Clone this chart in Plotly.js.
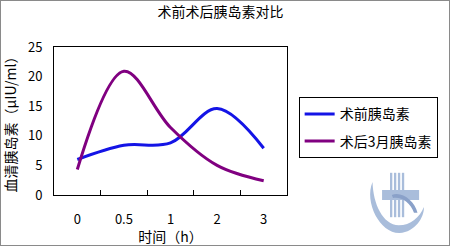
<!DOCTYPE html>
<html><head><meta charset="utf-8">
<script src="https://cdn.plot.ly/plotly-3.0.1.min.js"></script>
<style>
html,body{margin:0;padding:0;background:#fff;}
#wrap{position:relative;width:450px;height:246px;}
#chart{width:450px;height:246px;}
#frame{position:absolute;left:0;top:0;width:450px;height:246px;box-sizing:border-box;border:1px solid #8a8a8a;pointer-events:none;}
</style></head>
<body>
<div id="wrap"><div id="chart"></div><div id="frame"></div></div>
<script>
const categories = ["0", "0.5", "1", "2", "3"];
const seriesNames = ["术前胰岛素", "术后3月胰岛素"];
const before = [6.0, 8.4, 8.8, 14.6, 7.9];
const after3m = [4.3, 20.9, 11.4, 5.0, 2.4];
const yTicks = [0, 5, 10, 15, 20, 25];

const F = '"Noto Sans CJK SC", "Noto Sans", sans-serif';
const traces = [
  {x: categories, y: before, name: seriesNames[0], type: 'scatter', mode: 'lines',
   line: {color: '#1414e6', width: 3, shape: 'spline', smoothing: 1}, legendgroup: 'a'},
  {x: categories, y: after3m, name: seriesNames[1], type: 'scatter', mode: 'lines',
   line: {color: '#800080', width: 3, shape: 'spline', smoothing: 1}, legendgroup: 'b'}
];
const logo = '#a9bddb';
const layout = {
  width: 450, height: 246,
  margin: {l: 54, r: 156, t: 47, b: 51},
  paper_bgcolor: '#fff', plot_bgcolor: '#fff',
  font: {family: F, size: 13, color: '#000'},
  title: {text: '术前术后胰岛素对比', x: 0.49, xanchor: 'center', y: 0.95, yanchor: 'middle', font: {size: 14, family: F}},
  xaxis: {type: 'category', showgrid: false, zeroline: false, showline: true, linecolor: '#000', linewidth: 1, mirror: true,
    ticks: 'inside', tickson: 'boundaries', ticklen: 5, tickcolor: '#000', ticklabelstandoff: 12,
    range: [-0.5, 4.5], tickfont: {size: 13},
    title: {text: '时间（h）', font: {size: 14}, standoff: 6}},
  yaxis: {range: [0, 25], tickvals: yTicks, showgrid: false, zeroline: false, showline: true, linecolor: '#000', linewidth: 1, mirror: true,
    ticks: '', ticklabelstandoff: 8, tickfont: {size: 13},
    title: {text: '血清胰岛素（μIU/ml）', font: {size: 14}, standoff: 8}},
  showlegend: true,
  legend: {x: 1.05, xanchor: 'left', y: 0.66, yanchor: 'top', bgcolor: '#fff', bordercolor: '#000', borderwidth: 1,
    font: {size: 14, family: F}, tracegroupgap: 6, itemwidth: 30},
  shapes: [
    {type: 'path', xref: 'paper', yref: 'paper',
     path: 'M 1.367 0.088 C 1.33 -0.05 1.40 -0.26 1.483 -0.257 C 1.55 -0.25 1.59 -0.15 1.5875 -0.081 C 1.57 -0.15 1.53 -0.205 1.48 -0.205 C 1.41 -0.20 1.37 -0.06 1.367 0.088 Z',
     fillcolor: logo, line: {width: 0}},
    {type: 'rect', xref: 'paper', yref: 'paper', x0: 1.408, x1: 1.567, y0: -0.034, y1: 0.034, fillcolor: logo, line: {width: 0}},
    {type: 'rect', xref: 'paper', yref: 'paper', x0: 1.442, x1: 1.452, y0: -0.15, y1: 0.15, fillcolor: logo, line: {width: 0}},
    {type: 'rect', xref: 'paper', yref: 'paper', x0: 1.459, x1: 1.469, y0: -0.15, y1: 0.15, fillcolor: logo, line: {width: 0}},
    {type: 'rect', xref: 'paper', yref: 'paper', x0: 1.476, x1: 1.486, y0: -0.15, y1: 0.15, fillcolor: logo, line: {width: 0}},
    {type: 'rect', xref: 'paper', yref: 'paper', x0: 1.493, x1: 1.503, y0: -0.15, y1: 0.15, fillcolor: logo, line: {width: 0}},
    {type: 'path', xref: 'paper', yref: 'paper',
     path: 'M 1.45 0.0 C 1.49 0.03 1.55 -0.04 1.56 -0.12 L 1.545 -0.12 C 1.53 -0.05 1.49 -0.01 1.455 -0.02 Z',
     fillcolor: '#8aa1c9', line: {width: 0}}
  ]
};
Plotly.newPlot('chart', traces, layout, {displayModeBar: false, staticPlot: true});
</script>
</body></html>
